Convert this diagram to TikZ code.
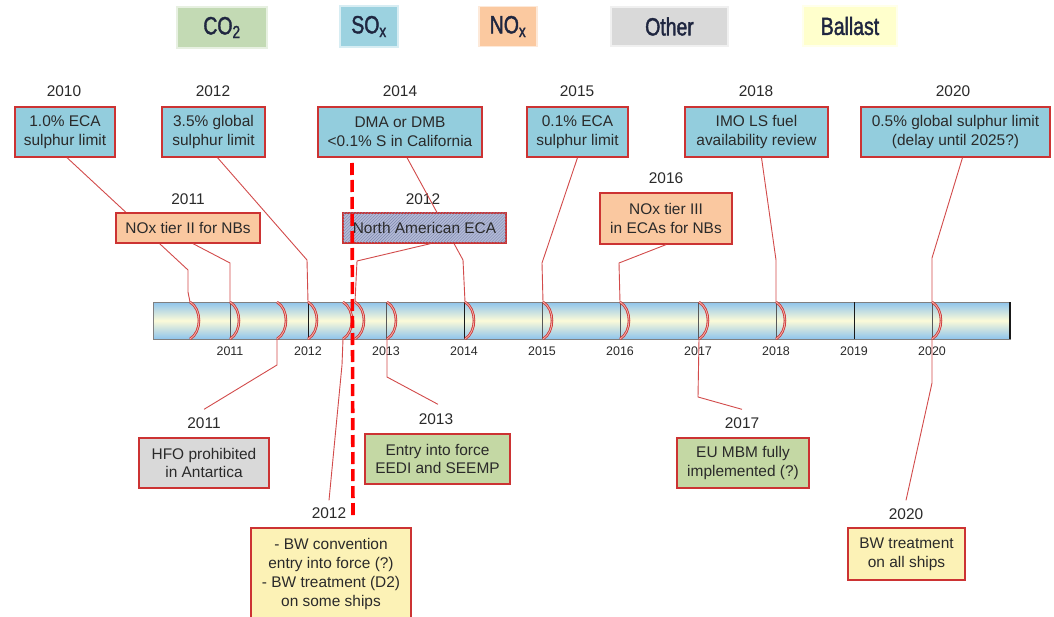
\documentclass[tikz,border=0pt]{standalone}
\usepackage{fontspec}
\setmainfont{Liberation Sans}
\newfontfamily\legendfamily[FakeStretch=0.78,FakeBold=1.6]{Liberation Sans}
\usetikzlibrary{patterns,calc}
\newcommand\bodyfnt{\fontsize{15.5}{18.8}\selectfont}
\newcommand\axfnt{\fontsize{12.5}{15}\selectfont}
\newcommand\legfnt{\legendfamily\fontsize{25}{28}\selectfont}
\definecolor{soxc}{HTML}{93CDDD}
\definecolor{noxc}{HTML}{FAC8A0}
\definecolor{co2c}{HTML}{C4D8A4}
\definecolor{otherc}{HTML}{D9D9D9}
\definecolor{ballc}{HTML}{FCF2B6}
\definecolor{legco2}{HTML}{C3DAB4}
\definecolor{legsox}{HTML}{9CD2E0}
\definecolor{legnox}{HTML}{FBC9A0}
\definecolor{legoth}{HTML}{D9D9D9}
\definecolor{legball}{HTML}{FFFFCC}
\definecolor{boxred}{HTML}{CC3333}
\definecolor{linered}{HTML}{D24B4B}
\definecolor{arcred}{HTML}{CC3030}
\definecolor{arcpink}{HTML}{F2B0A8}
\definecolor{txt}{HTML}{2A2A2A}
\definecolor{legtxt}{HTML}{1F2640}
\definecolor{barblue}{HTML}{8EC4EC}
\definecolor{baryel}{HTML}{FCFAD8}
\definecolor{ecafill}{HTML}{B3BAD6}
\definecolor{ecahatch}{HTML}{7F89B0}
\begin{document}
\begin{tikzpicture}[x=1bp,y=-1bp,
  ev/.style={draw=boxred, line width=1.3bp, inner sep=0pt, align=center, text=txt, font=\bodyfnt},
  sz/.style 2 args={minimum width=#1bp, minimum height=#2bp},
  yr/.style={inner sep=0pt, text=txt, font=\bodyfnt},
  axlab/.style={inner sep=0pt, text=txt, font=\axfnt},
  leg/.style={inner sep=0pt, text=legtxt, font=\legfnt, line width=1.2bp},
  conn/.style={draw=linered, line width=0.9bp},
  arcm/.style={draw=arcred, double=arcpink, double distance=0.9bp, line width=0.8bp},
  tickm/.style={draw=black!65, line width=0.9bp}
]
\clip (0,0) rectangle (1054,617);
\fill[white] (0,0) rectangle (1054,617);

% legend
\node[leg, fill=legco2, draw=legco2!40!white, sz={90}{41}] (lco2) at (222,27.5) {CO\textsubscript{2}};
\node[leg, fill=legsox, draw=legsox!40!white, sz={58}{41}] (lsox) at (369,26.5) {SO\textsubscript{x}};
\node[leg, fill=legnox, draw=legnox!40!white, sz={58}{40}] (lnox) at (508,26.5) {NO\textsubscript{x}};
\node[leg, fill=legoth, draw=legoth!40!white, sz={117}{39}] (loth) at (669.5,26.5) {Other};
\node[leg, fill=legball, draw=legball!40!white, sz={94}{40}] (lbal) at (850,26) {Ballast};

% bar
\shade[top color=barblue, bottom color=barblue, middle color=baryel] (153,302) rectangle (1010,339);
\draw[black!50, line width=1bp] (153,302) rectangle (1010,339);
\foreach \k in {1,3,5,6,7,8,10} {
  \draw[tickm] ({152+78*\k},302) -- ({152+78*\k},339);
}
\foreach \k in {2,4,9} {
  \draw[black!90, line width=1bp] ({152+78*\k},302) -- ({152+78*\k},339);
}
\draw[black!90, line width=1.6bp] (1010,302) -- (1010,339);
\foreach \k in {1,...,10} {
  \pgfmathtruncatemacro\yy{2010+\k}
  \node[axlab] (ax\yy) at ({152+78*\k},351) {\yy};
}

% event marks on the bar
\foreach \x in {190,230,277,308,343,355,387,465,543,620,699,776,932} {
  \coordinate (t\x) at (\x,302);
  \coordinate (b\x) at (\x,339);
  \draw[arcm] (\x,302) .. controls (\x+12,309) and (\x+12,332) .. (\x,339);
}

% top year labels
\node[yr] (y2010) at (64,91) {2010};
\node[yr] (y2012) at (213,91) {2012};
\node[yr] (y2014) at (400,91) {2014};
\node[yr] (y2015) at (577,91) {2015};
\node[yr] (y2018) at (756,91) {2018};
\node[yr] (y2020) at (953,91) {2020};
\node[yr] (y2011m) at (188,199) {2011};
\node[yr] (y2012m) at (423,199) {2012};
\node[yr] (y2016m) at (666,178) {2016};

% bottom year labels
\node[yr] (y2011b) at (204,423) {2011};
\node[yr] (y2013b) at (436,419) {2013};
\node[yr] (y2012b) at (329,513) {2012};
\node[yr] (y2017b) at (742,423) {2017};
\node[yr] (y2020b) at (906,514) {2020};

% top boxes
\node[ev, fill=soxc, sz={100}{50}] (e2010) at (65,132) {1.0\% ECA\\sulphur limit};
\node[ev, fill=soxc, sz={103}{50}] (e2012) at (213.5,132) {3.5\% global\\sulphur limit};
\node[ev, fill=soxc, sz={164}{50}] (e2014) at (400,132) {DMA or DMB\\<0.1\% S in California};
\node[ev, fill=soxc, sz={101}{50}] (e2015) at (577.5,132) {0.1\% ECA\\sulphur limit};
\node[ev, fill=soxc, sz={143}{50}] (e2018) at (756.5,132) {IMO LS fuel\\availability review};
\node[ev, fill=soxc, sz={189}{50}] (e2020) at (955.5,132) {0.5\% global sulphur limit\\(delay until 2025?)};

% connectors above the bar
\draw[conn] ([xshift=2bp]e2010.south) -- (188,270) -- (188,292) -- (t190);
\draw[conn] ([xshift=4bp]e2012.south) -- (307,260) -- (t308);
\draw[conn] ([xshift=7bp]e2014.south) -- (463,260) -- (t465);
\draw[conn] (e2015.south) -- (542,263) -- (t543);
\draw[conn] ([xshift=5bp]e2018.south) -- (776,260) -- (t776);
\draw[conn] ([xshift=7bp]e2020.south) -- (932,258) -- (t932);

% middle boxes
\node[ev, fill=noxc, sz={144}{30}] (nox2) at (188,228) {NOx tier II for NBs};
\node[ev, fill=ecafill, sz={163}{30}, postaction={pattern=north east lines, pattern color=ecahatch}] (eca) at (424.5,228) {};
\node[inner sep=0pt, text=txt, font=\bodyfnt] (ecat) at (eca.center) {North American ECA};
\node[ev, fill=noxc, sz={132}{51}] (nox3) at (666,218.5) {NOx tier III\\in ECAs for NBs};

\draw[conn] ([xshift=5bp]nox2.south) -- (230,263) -- (t230);
\draw[conn] ([xshift=6bp]eca.south) -- (357,261) -- (t355);
\draw[conn] (nox3.south) -- (619,263) -- (t620);

% bottom boxes
\node[ev, fill=otherc, sz={130}{50}] (hfo) at (204,463) {HFO prohibited\\in Antartica};
\node[ev, fill=co2c, sz={145}{50}] (eedi) at (437.5,459) {Entry into force\\EEDI and SEEMP};
\node[ev, fill=ballc, sz={160}{92}] (bwc) at (331,574) {- BW convention\\entry into force (?)\\- BW treatment (D2)\\on some ships};
\node[ev, fill=co2c, sz={132}{50}] (mbm) at (743,463) {EU MBM fully\\implemented (?)};
\node[ev, fill=ballc, sz={117}{52}] (bwt) at (906.5,554) {BW treatment\\on all ships};

% connectors below the bar
\draw[conn] (b277) -- (277,365) -- ([yshift=8bp]y2011b.north);
\draw[conn] (b343) -- (342,365) -- ([yshift=7bp]y2012b.north);
\draw[conn] (b387) -- (387,377) -- ([xshift=2bp,yshift=9bp]y2013b.north);
\draw[conn] (b699) -- (698,397) -- ([yshift=8bp]y2017b.north);
\draw[conn] (b932) -- (932,383) -- ([yshift=8bp]y2020b.north);

% red dashed line
\draw[red, line width=3.6bp, dash pattern=on 12bp off 5bp] (352,163) -- (353,516);
\end{tikzpicture}
\end{document}
